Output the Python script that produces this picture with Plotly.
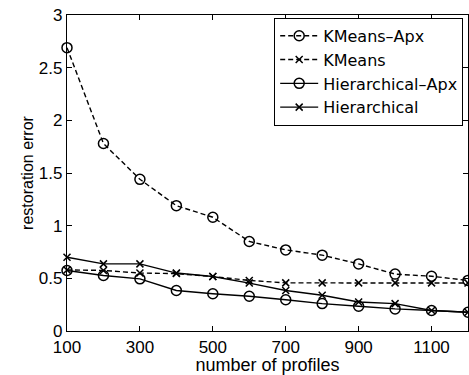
import plotly.graph_objects as go

profiles = [100, 200, 300, 400, 500, 600, 700, 800, 900, 1000, 1100, 1200]
kmeans_apx = [2.69, 1.78, 1.44, 1.19, 1.08, 0.85, 0.77, 0.72, 0.637, 0.54, 0.52, 0.48]
kmeans = [0.58, 0.575, 0.55, 0.545, 0.517, 0.48, 0.457, 0.457, 0.457, 0.457, 0.457, 0.455]
hier_apx = [0.574, 0.527, 0.495, 0.385, 0.354, 0.33, 0.297, 0.26, 0.235, 0.21, 0.195, 0.178]
hier = [0.70, 0.637, 0.637, 0.55, 0.517, 0.455, 0.385, 0.34, 0.275, 0.26, 0.195, 0.178]

x_ticks = [100, 300, 500, 700, 900, 1100]
y_ticks = [0, 0.5, 1, 1.5, 2, 2.5, 3]
y_tick_text = ["0", "0.5", "1", "1.5", "2", "2.5", "3"]

FONT = "Liberation Sans, Arial, Helvetica, sans-serif"
LEGEND_FONT = "DejaVu Sans, Liberation Sans, sans-serif"

series = [
    ("KMeans–Apx", kmeans_apx, "5px,3px", "circle-open", 10),
    ("KMeans", kmeans, "5px,3px", "x-thin-open", 7),
    ("Hierarchical–Apx", hier_apx, "solid", "circle-open", 10),
    ("Hierarchical", hier, "solid", "x-thin-open", 7),
]

fig = go.Figure()
for name, vals, dash, sym, size in series:
    fig.add_trace(go.Scatter(
        x=profiles, y=vals, name=name, mode="lines+markers",
        line=dict(color="black", width=1.4, dash=dash),
        marker=dict(symbol=sym, size=size, color="black",
                    line=dict(color="black", width=1.5)),
        cliponaxis=False,
    ))

axis_common = dict(
    showline=True, linecolor="black", linewidth=1.3, mirror="ticks",
    ticks="inside", ticklen=5, tickcolor="black", tickwidth=1,
    showgrid=False, zeroline=False,
    tickfont=dict(family=FONT, size=17, color="black"),
)

fig.update_layout(
    width=469, height=375,
    margin=dict(l=67, r=1, t=15, b=44),
    paper_bgcolor="white", plot_bgcolor="white",
    font=dict(family=FONT, color="black"),
    showlegend=True,
    legend=dict(
        x=0.988, y=0.991, xanchor="right", yanchor="top",
        bgcolor="white", bordercolor="black", borderwidth=1,
        font=dict(family=LEGEND_FONT, size=16, color="black"),
        tracegroupgap=0, itemwidth=38,
    ),
    xaxis=dict(range=[100, 1200], tickvals=x_ticks,
               title=dict(text="number of profiles", standoff=0,
                          font=dict(family=FONT, size=18, color="black")),
               **axis_common),
    yaxis=dict(range=[0, 3], tickvals=y_ticks, ticktext=y_tick_text,
               title=dict(text="restoration error", standoff=1,
                          font=dict(family=FONT, size=16, color="black")),
               **axis_common),
)

fig.write_html("out.html", config={"displayModeBar": False},
               post_script="document.body.style.margin='0';document.body.style.padding='0';")
